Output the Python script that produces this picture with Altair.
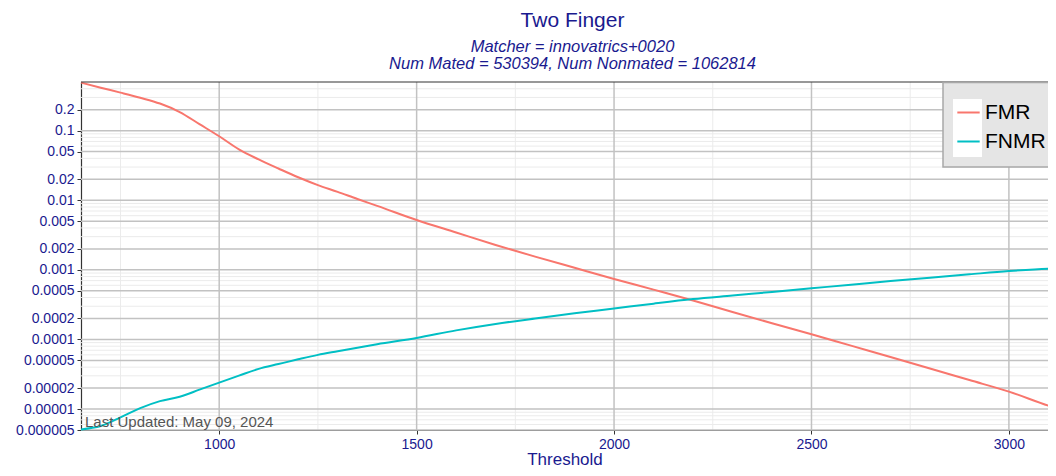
import altair as alt
import pandas as pd

# ---- data ----
thresholds = [650, 700, 750, 800, 850, 900, 950, 1000, 1050, 1100, 1150, 1200, 1250,
              1300, 1350, 1400, 1500, 1600, 1700, 1800, 1900, 2000, 2100, 2200, 2300,
              2400, 2500, 2600, 2700, 2800, 2900, 3000, 3100, 3120]
fmr = [0.49, 0.414, 0.352, 0.297, 0.245, 0.185, 0.124, 0.083, 0.0538, 0.0386, 0.0286,
       0.0214, 0.0165, 0.0132, 0.0104, 0.0083, 0.0052, 0.00344, 0.00228, 0.00155,
       0.00107, 0.00074, 0.00052, 0.000363, 0.000248, 0.000171, 0.000119, 8.15e-5,
       5.6e-5, 3.83e-5, 2.61e-5, 1.78e-5, 1.12e-5, 1.03e-5]
fnmr = [5.1e-6, 5.7e-6, 7.6e-6, 1.03e-5, 1.3e-5, 1.5e-5, 1.9e-5, 2.4e-5, 3.02e-5,
        3.78e-5, 4.43e-5, 5.18e-5, 6.0e-5, 6.76e-5, 7.6e-5, 8.53e-5, 1.05e-4, 1.35e-4,
        1.67e-4, 2.0e-4, 2.37e-4, 2.78e-4, 3.27e-4, 3.8e-4, 4.28e-4, 4.82e-4, 5.43e-4,
        6.12e-4, 6.9e-4, 7.73e-4, 8.63e-4, 9.6e-4, 1.04e-3, 1.05e-3]
series_names = ["FMR", "FNMR"]
series_colors = ["#F8766D", "#00BFC4"]

y_major = [5e-6, 1e-5, 2e-5, 5e-5, 1e-4, 2e-4, 5e-4, 1e-3, 2e-3, 5e-3,
           0.01, 0.02, 0.05, 0.1, 0.2]
y_minor_mantissa = [3, 4, 6, 7, 8, 9]
y_minor_decades = [1e-6, 1e-5, 1e-4, 1e-3, 1e-2, 1e-1]
x_major = [1000, 1500, 2000, 2500, 3000]
x_minor = [750, 1250, 1750, 2250, 2750]

title_text = "Two Finger"
subtitle_lines = ["Matcher = innovatrics+0020", "Num Mated = 530394, Num Nonmated = 1062814"]
footnote = "Last Updated: May 09, 2024"

# ---- tables ----
df = pd.DataFrame({
    "Threshold": thresholds * 2,
    "value": fmr + fnmr,
    "series": [series_names[0]] * len(thresholds) + [series_names[1]] * len(thresholds),
})
y_minor = [m * d for d in y_minor_decades for m in y_minor_mantissa if 5e-6 < m * d < 0.5]
df_ymin = pd.DataFrame({"value": y_minor})
df_ymaj = pd.DataFrame({"value": y_major})
df_xmin = pd.DataFrame({"Threshold": x_minor})
df_xmaj = pd.DataFrame({"Threshold": x_major})
df_one = pd.DataFrame({"note": [footnote]})

W, H = 967, 348
BLUE = "#1a1a8f"

xscale = alt.Scale(domain=[650, 3099], nice=False, zero=False)
yscale = alt.Scale(type="log", domain=[5e-6, 0.5], nice=False)

xaxis = alt.Axis(values=x_major, grid=False, format="d", labelFontSize=14,
                 labelColor=BLUE, tickColor="#333333", tickSize=4, domainColor="#333333",
                 domainWidth=1.2, labelPadding=3, title="Threshold", titleFontSize=17,
                 titleColor=BLUE, titleFontWeight="normal", titlePadding=0)
yaxis = alt.Axis(values=y_major, grid=False, format="~f", labelFontSize=14,
                 labelColor=BLUE, tickColor="#333333", tickSize=4, domainColor="#333333",
                 domainWidth=1.2, labelPadding=3, title=None)

X = alt.X("Threshold:Q", scale=xscale, axis=xaxis, title="Threshold")
Y = alt.Y("value:Q", scale=yscale, axis=yaxis, title=None)

ymin_rules = alt.Chart(df_ymin).mark_rule(color="#EBEBEB", strokeWidth=1).encode(y=Y)
xmin_rules = alt.Chart(df_xmin).mark_rule(color="#EBEBEB", strokeWidth=1).encode(x=X)
ymaj_rules = alt.Chart(df_ymaj).mark_rule(color="#C2C2C2", strokeWidth=1.5).encode(y=Y)
xmaj_rules = alt.Chart(df_xmaj).mark_rule(color="#C2C2C2", strokeWidth=1.5).encode(x=X)

top_border = alt.Chart(df_one).mark_rule(color="#333333", strokeWidth=1.2).encode(
    x=alt.value(0), x2=alt.value(W), y=alt.value(0))

legend_box = alt.Chart(df_one).mark_rect(fill="#E5E5E5", stroke="#A8A8A8",
                                         strokeWidth=1.5).encode(
    x=alt.value(862), x2=alt.value(W + 30), y=alt.value(0.5), y2=alt.value(85))
legend_key_bg = alt.Chart(df_one).mark_rect(fill="white").encode(
    x=alt.value(872), x2=alt.value(901), y=alt.value(17), y2=alt.value(75))

lines = alt.Chart(df).mark_line(strokeWidth=2, interpolate="monotone").encode(
    x=X,
    y=Y,
    color=alt.Color("series:N",
                    scale=alt.Scale(domain=series_names, range=series_colors),
                    legend=alt.Legend(orient="none", legendX=875, legendY=18, title=None,
                                      labelFontSize=21, labelColor="black",
                                      labelFont="Liberation Sans",
                                      symbolType="stroke", symbolSize=500,
                                      symbolStrokeWidth=2, labelOffset=4,
                                      rowPadding=6, padding=0)),
)

foot = alt.Chart(df_one).mark_text(align="left", baseline="alphabetic",
                                   fontSize=15, color="#555555",
                                   font="Liberation Sans").encode(
    text="note:N", x=alt.value(4), y=alt.value(H - 3))

chart = alt.layer(
    ymin_rules, xmin_rules, ymaj_rules, xmaj_rules, lines, top_border,
    legend_box, legend_key_bg, foot
).properties(
    width=W, height=H,
    title=alt.TitleParams(text=title_text, subtitle=subtitle_lines, anchor="middle",
                          fontSize=21, fontWeight="normal", color=BLUE,
                          subtitleFontSize=16.5, subtitleFontStyle="italic",
                          subtitleColor=BLUE, subtitleLineHeight=17,
                          subtitlePadding=8, offset=6, dx=8,
                          font="Liberation Sans", subtitleFont="Liberation Sans"),
    autosize=alt.AutoSizeParams(type="none"),
    padding={"left": 73, "top": 74, "right": 0, "bottom": 38},
).configure_view(stroke=None).configure_axis(
    labelFont="Liberation Sans", titleFont="Liberation Sans"
)

chart.save("out.html", embed_options={"renderer": "svg", "actions": False})
